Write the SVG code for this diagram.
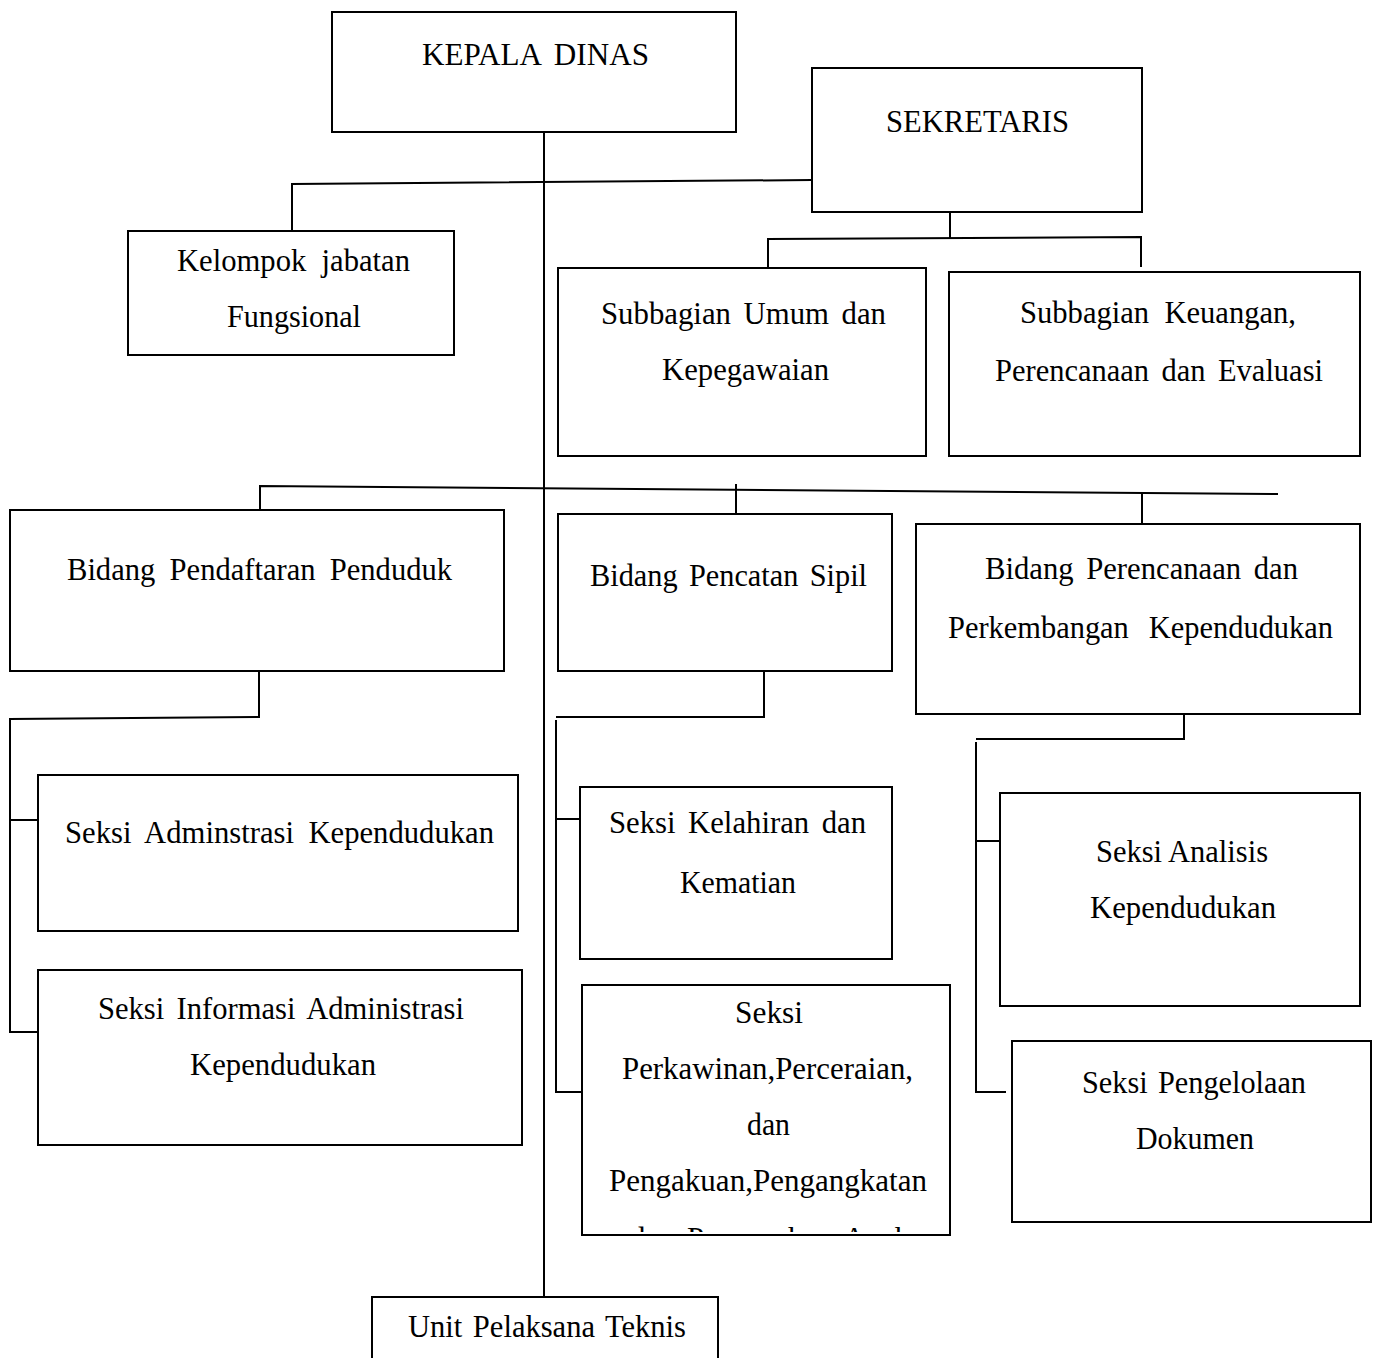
<svg xmlns="http://www.w3.org/2000/svg" width="1378" height="1358" viewBox="0 0 1378 1358">
<style>
.box{fill:#fff;stroke:#000;stroke-width:2}
.c{stroke:#000;stroke-width:2;fill:none}
.t{font-family:"Liberation Serif","Times New Roman",serif;font-size:32px;fill:#000}
</style>
<defs>
<clipPath id="clipPerk"><rect x="583" y="986" width="366" height="246"/></clipPath>
</defs>
<rect width="1378" height="1358" fill="#fff"/>
<g id="connectors">
<line class="c" x1="544" y1="132" x2="544" y2="1297" stroke-width="1.6"/>
<polyline class="c" points="292,231 292,184 812,180"/>
<line class="c" x1="950" y1="212" x2="950" y2="238"/>
<polyline class="c" points="768,268 768,239 1141,237 1141,267"/>
<polyline class="c" points="260,510 260,486 1278,494"/>
<line class="c" x1="736" y1="484" x2="736" y2="514"/>
<line class="c" x1="1142" y1="494" x2="1142" y2="524"/>
<polyline class="c" points="259,671 259,717 10,719 10,1032 38,1032"/>
<line class="c" x1="10" y1="820" x2="38" y2="820"/>
<polyline class="c" points="764,671 764,717 556,717"/>
<polyline class="c" points="556,720 556,1092 582,1092"/>
<line class="c" x1="556" y1="819" x2="580" y2="819"/>
<polyline class="c" points="1184,710 1184,739 976,739"/>
<polyline class="c" points="976,742 976,1092 1006,1092"/>
<line class="c" x1="976" y1="841" x2="1000" y2="841"/>
</g>
<g id="kepala-dinas">
<rect class="box" x="332" y="12" width="404" height="120"/>
<text class="t" x="422" y="65" word-spacing="6" textLength="227" lengthAdjust="spacingAndGlyphs">KEPALA DINAS</text>
</g>
<g id="sekretaris">
<rect class="box" x="812" y="68" width="330" height="144"/>
<text class="t" x="886" y="132" textLength="183" lengthAdjust="spacingAndGlyphs">SEKRETARIS</text>
</g>
<g id="kelompok-jabatan">
<rect class="box" x="128" y="231" width="326" height="124"/>
<text class="t" x="177" y="271" word-spacing="8" textLength="233" lengthAdjust="spacingAndGlyphs">Kelompok jabatan</text>
<text class="t" x="227" y="327" textLength="134" lengthAdjust="spacingAndGlyphs">Fungsional</text>
</g>
<g id="subbagian-umum">
<rect class="box" x="558" y="268" width="368" height="188"/>
<text class="t" x="601" y="324" word-spacing="5" textLength="285" lengthAdjust="spacingAndGlyphs">Subbagian Umum dan</text>
<text class="t" x="662" y="380" textLength="167" lengthAdjust="spacingAndGlyphs">Kepegawaian</text>
</g>
<g id="subbagian-keuangan">
<rect class="box" x="949" y="272" width="411" height="184"/>
<text class="t" x="1020" y="323" word-spacing="8" textLength="276" lengthAdjust="spacingAndGlyphs">Subbagian Keuangan,</text>
<text class="t" x="995" y="381" word-spacing="5" textLength="328" lengthAdjust="spacingAndGlyphs">Perencanaan dan Evaluasi</text>
</g>
<g id="bidang-pendaftaran">
<rect class="box" x="10" y="510" width="494" height="161"/>
<text class="t" x="67" y="580" word-spacing="7" textLength="385" lengthAdjust="spacingAndGlyphs">Bidang Pendaftaran Penduduk</text>
</g>
<g id="bidang-pencatan">
<rect class="box" x="558" y="514" width="334" height="157"/>
<text class="t" x="590" y="586" word-spacing="4" textLength="277" lengthAdjust="spacingAndGlyphs">Bidang Pencatan Sipil</text>
</g>
<g id="bidang-perencanaan">
<rect class="box" x="916" y="524" width="444" height="190"/>
<text class="t" x="985" y="579" word-spacing="5" textLength="313" lengthAdjust="spacingAndGlyphs">Bidang Perencanaan dan</text>
<text class="t" x="948" y="638" word-spacing="13" textLength="385" lengthAdjust="spacingAndGlyphs">Perkembangan Kependudukan</text>
</g>
<g id="seksi-adminstrasi">
<rect class="box" x="38" y="775" width="480" height="156"/>
<text class="t" x="65" y="843" word-spacing="7" textLength="429" lengthAdjust="spacingAndGlyphs">Seksi Adminstrasi Kependudukan</text>
</g>
<g id="seksi-informasi">
<rect class="box" x="38" y="970" width="484" height="175"/>
<text class="t" x="98" y="1019" word-spacing="5" textLength="366" lengthAdjust="spacingAndGlyphs">Seksi Informasi Administrasi</text>
<text class="t" x="190" y="1075" textLength="186" lengthAdjust="spacingAndGlyphs">Kependudukan</text>
</g>
<g id="seksi-kelahiran">
<rect class="box" x="580" y="787" width="312" height="172"/>
<text class="t" x="609" y="833" word-spacing="5" textLength="257" lengthAdjust="spacingAndGlyphs">Seksi Kelahiran dan</text>
<text class="t" x="680" y="893" textLength="116" lengthAdjust="spacingAndGlyphs">Kematian</text>
</g>
<g id="seksi-perkawinan">
<rect class="box" x="582" y="985" width="368" height="250"/>
<text class="t" x="735" y="1023" textLength="68" lengthAdjust="spacingAndGlyphs">Seksi</text>
<text class="t" x="622" y="1079" textLength="291" lengthAdjust="spacingAndGlyphs">Perkawinan,Perceraian,</text>
<text class="t" x="747" y="1135" textLength="43" lengthAdjust="spacingAndGlyphs">dan</text>
<text class="t" x="609" y="1191" textLength="318" lengthAdjust="spacingAndGlyphs">Pengakuan,Pengangkatan</text>
<text class="t" x="630" y="1249" word-spacing="5" textLength="280" lengthAdjust="spacingAndGlyphs" clip-path="url(#clipPerk)">dan Pengesahan Anak</text>
</g>
<g id="seksi-analisis">
<rect class="box" x="1000" y="793" width="360" height="213"/>
<text class="t" x="1096" y="862" textLength="172" lengthAdjust="spacingAndGlyphs">Seksi Analisis</text>
<text class="t" x="1090" y="918" textLength="186" lengthAdjust="spacingAndGlyphs">Kependudukan</text>
</g>
<g id="seksi-pengelolaan">
<rect class="box" x="1012" y="1041" width="359" height="181"/>
<text class="t" x="1082" y="1093" word-spacing="3" textLength="224" lengthAdjust="spacingAndGlyphs">Seksi Pengelolaan</text>
<text class="t" x="1136" y="1149" textLength="118" lengthAdjust="spacingAndGlyphs">Dokumen</text>
</g>
<g id="unit-pelaksana">
<rect class="box" x="372" y="1297" width="346" height="80"/>
<text class="t" x="408" y="1337" word-spacing="3" textLength="278" lengthAdjust="spacingAndGlyphs">Unit Pelaksana Teknis</text>
</g>
</svg>
